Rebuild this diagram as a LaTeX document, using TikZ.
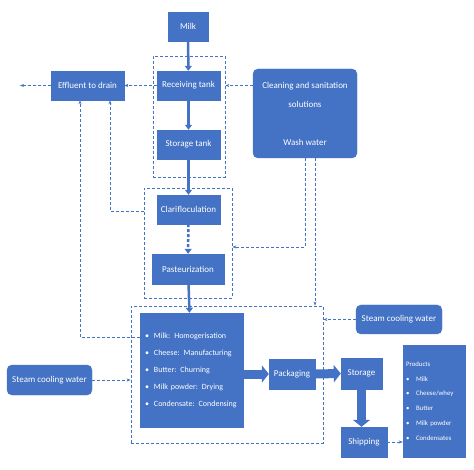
\documentclass[tikz,border=0pt]{standalone}
\usepackage{fontspec}
\setmainfont{Carlito}
\usepackage{xcolor}
\usepackage{tikz}
\usetikzlibrary{arrows.meta, calc, positioning}
\definecolor{boxblue}{HTML}{4472C4}
\newcommand{\bulletitem}[2][9pt]{\makebox[#1][l]{\textbullet}#2}

\begin{document}
\begin{tikzpicture}[x=1pt, y=-1pt,
  box/.style={draw=boxblue, fill=boxblue, text=white, font=\fontsize{9}{11}\selectfont, inner sep=0pt},
  rbox/.style={box, rounded corners=5pt},
  frame/.style={draw=boxblue, densely dashed, line width=0.8pt, inner sep=0pt},
  conn/.style={draw=boxblue, densely dashed, line width=0.8pt, -{Stealth[length=4pt]}},
  flow/.style={draw=boxblue, line width=2.5pt, -{Triangle[width=7pt,length=5pt]}},
  block/.style={draw=boxblue, line width=9pt, -{Triangle[width=17pt,length=7pt]}}]
\useasboundingbox (0,0) rectangle (474,470);
% dashed groups
\node[frame, minimum width=72pt, minimum height=121pt] (fa) at (189,116.5) {};
\node[frame, minimum width=88pt, minimum height=110pt] (fb) at (188,243) {};
\node[frame, minimum width=192pt, minimum height=137pt] (fc) at (227,374.5) {};
% process boxes
\node[box, minimum width=40pt, minimum height=29pt] (milk) at (188,26.5) {Milk};
\node[box, minimum width=63pt, minimum height=29pt] (recv) at (188.5,85.5) {Receiving tank};
\node[box, minimum width=63pt, minimum height=29pt] (stor) at (188.5,144.5) {Storage tank};
\node[box, minimum width=73pt, minimum height=29pt] (eff) at (87.5,85.5) {Effluent to drain};
\node[rbox, minimum width=104pt, minimum height=89pt, align=center, font=\fontsize{9}{19}\selectfont] (clean) at (305,113.5)
  {Cleaning and sanitation\\solutions\\[19pt]Wash water};
\node[box, minimum width=63pt, minimum height=29pt] (clar) at (188.5,209.5) {Clarifloculation};
\node[box, minimum width=72pt, minimum height=30pt] (past) at (188,269) {Pasteurization};
\node[box, minimum width=103pt, minimum height=114pt, text width=93pt, inner xsep=5pt, align=left,
  font=\fontsize{8}{17}\selectfont] (list) at (191.5,370)
  {\bulletitem{Milk: Homogerisation}\\
   \bulletitem{Cheese: Manufacturing}\\
   \bulletitem{Butter: Churning}\\
   \bulletitem{Milk powder: Drying}\\
   \bulletitem{Condensate: Condensing}};
\node[box, minimum width=46pt, minimum height=30pt] (pack) at (292,374) {Packaging};
\node[box, minimum width=41pt, minimum height=31pt] (stor2) at (361.5,373.5) {Storage};
\node[box, minimum width=46pt, minimum height=30pt] (ship) at (364,442) {Shipping};
\node[box, minimum width=62pt, minimum height=112pt, text width=56pt, inner xsep=3pt, align=left,
  font=\fontsize{6.8}{14.8}\selectfont] (prod) at (434,401)
  {Products\\
   \bulletitem[10pt]{Milk}\\
   \bulletitem[10pt]{Cheese/whey}\\
   \bulletitem[10pt]{Butter}\\
   \bulletitem[10pt]{Milk powder}\\
   \bulletitem[10pt]{Condensates}};
\node[rbox, minimum width=86pt, minimum height=29pt] (steamr) at (399,319.5) {Steam cooling water};
\node[rbox, minimum width=85pt, minimum height=30pt] (steaml) at (49.5,380) {Steam cooling water};
% main flow
\draw[flow] (milk) -- (recv);
\draw[flow] (recv) -- (stor);
\draw[flow] (stor) -- (clar);
\draw[flow, densely dashed] (clar) -- (past);
\draw[flow] (past) -- (list);
\draw[block] (list.east |- pack) -- (pack.west);
\draw[block] (pack.east) -- (stor2.west);
\draw[block] (stor2.south) -- (stor2.south |- ship.north);
\draw[conn] (ship.east) -- (prod.west |- ship);
% effluent lines
\coordinate (drain) at (20,85.5);
\coordinate (e1) at ([xshift=-7.5pt]eff.south);
\coordinate (e2) at ([xshift=22.5pt]eff.south);
\draw[conn] (recv.west) -- (eff.east);
\draw[conn] (eff.west) -- (drain);
\draw[conn] ([yshift=33pt]list.west) -| (e1);
\draw[conn] ([yshift=32pt]fb.west) -| (e2);
% cleaning and cooling water
\coordinate (cw) at ([xshift=10pt]clean.south);
\draw[conn] (clean.west |- recv) -- (fa.east |- recv);
\draw[conn] (clean.south) |- ([yshift=-4pt]fb.east);
\draw[conn] (cw) -- (cw |- fc.north);
\draw[conn] (steamr.west) -- (fc.east |- steamr);
\draw[conn] (steaml.east) -- (fc.west |- steaml);
\end{tikzpicture}
\end{document}
